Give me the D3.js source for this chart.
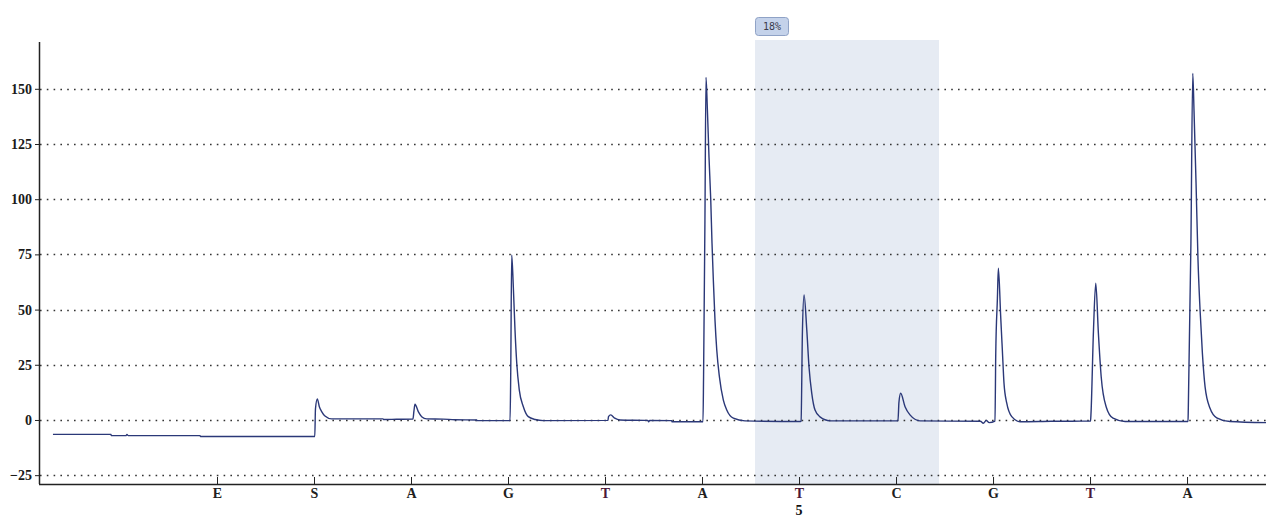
<!DOCTYPE html>
<html>
<head>
<meta charset="utf-8">
<script src="https://cdn.jsdelivr.net/npm/d3@7"></script>
<style>
  body { margin: 0; background: #fff; }
  .tick text { font-family: "Liberation Serif", serif; font-weight: bold; font-size: 14px; }
</style>
</head>
<body>
<div id="pyrogram"></div>
<script>
// dispensation order along the x axis (positions 1..11)
var dispensations = ["E", "S", "A", "G", "T", "A", "T", "C", "G", "T", "A"];
var dispPositions = [1, 2, 3, 4, 5, 6, 7, 8, 9, 10, 11];
var yTicks = [-25, 0, 25, 50, 75, 100, 125, 150];

// analysed region (in dispensation units) and its labels
var regionRange = [6.546, 8.443];
var regionLabel = "18%";
var positionLabel = "5";
var positionAt = 7;

// signal trace
var traceX = [-0.691, -0.093, -0.09, 0.06, 0.072, 0.085, 0.825, 0.83, 2.008,
  2.015, 2.034, 2.055, 2.079, 2.113, 2.182, 2.711, 2.72, 2.85, 3.02,
  3.03, 3.041, 3.075, 3.11, 3.162, 3.33, 3.45, 3.677, 3.68, 4.018,
  4.021, 4.028, 4.038, 4.055, 4.072, 4.09, 4.116, 4.158, 4.209, 4.28, 4.364,
  5.03, 5.036, 5.059, 5.1, 5.155, 5.44, 5.45, 5.46, 5.688, 5.69, 6.01,
  6.016, 6.03, 6.041, 6.055, 6.072, 6.09, 6.103, 6.117, 6.134, 6.152, 6.179, 6.22, 6.255, 6.323, 6.443, 7.015,
  7.021, 7.035, 7.052, 7.08, 7.103, 7.131, 7.165, 7.216, 7.32, 8.02,
  8.03, 8.048, 8.093, 8.144, 8.247, 8.87, 8.9, 8.93, 8.96, 9.02,
  9.028, 9.045, 9.055, 9.079, 9.096, 9.113, 9.141, 9.193, 9.278, 9.6, 10.005,
  10.01, 10.035, 10.059, 10.086, 10.115, 10.166, 10.237, 10.361, 11.01,
  11.013, 11.04, 11.059, 11.072, 11.093, 11.113, 11.134, 11.158, 11.186, 11.237, 11.306, 11.443, 11.814];
var traceY = [-6.5, -6.5, -7.1, -7.1, -6.6, -7.1, -7.1, -7.5, -7.5,
  5, 9.5, 6, 3.8, 1.8, 0.5, 0.5, 0.2, 0.3, 0.4,
  4, 7.1, 3.8, 1.5, 0.5, 0.4, 0.1, 0, -0.3, -0.3,
  -0.3, 21, 74.7, 60, 40.8, 25.8, 13.6, 6, 1.5, 0.2, -0.3,
  -0.2, 1.5, 2.3, 0.8, 0, -0.2, -0.8, -0.2, -0.3, -0.8, -0.8,
  20, 90, 155.2, 141, 119, 99.6, 80, 63, 45, 31.7, 19.6, 9, 4.5, 0.8, -0.4, -0.7,
  -0.5, 40, 56.6, 40.8, 24, 12.2, 4.5, 1.4, -0.4, -0.4,
  8, 12.1, 6, 2.3, -0.4, -0.6, -1.5, -0.2, -1.2, -0.5,
  30, 55, 68.7, 46.8, 31.7, 16.7, 7.7, 1.5, -0.8, -0.6, -0.5,
  3, 40, 61.9, 39.4, 19.6, 6, 0.8, -0.7, -0.7,
  5, 80, 157, 140, 107, 72.5, 50, 30.4, 15, 5.3, 1, -0.7, -1.2];

var svgWidth = 1266;
var svgHeight = 518;
var margin = { top: 42, right: 0, bottom: 34, left: 39 };
var width = svgWidth - margin.left - margin.right;
var height = svgHeight - margin.top - margin.bottom;

var svg = d3.select("#pyrogram")
  .append("svg")
  .attr("width", svgWidth)
  .attr("height", svgHeight);

var chartGroup = svg.append("g")
  .attr("transform", `translate(${margin.left}, ${margin.top})`);

var xScale = d3.scaleLinear()
  .domain([-0.835, 11.814])
  .range([0, width]);

var yScale = d3.scaleLinear()
  .domain([-29, 171.2])
  .range([height, 0]);

// shaded analysis region
chartGroup.append("rect")
  .attr("x", xScale(regionRange[0]))
  .attr("y", -2)
  .attr("width", xScale(regionRange[1]) - xScale(regionRange[0]))
  .attr("height", height + 2)
  .attr("fill", "#e6ebf3");

// badge above region
var badge = chartGroup.append("g")
  .attr("transform", `translate(${xScale(regionRange[0])}, -25)`);
badge.append("rect")
  .attr("x", 0.5)
  .attr("y", 0.5)
  .attr("width", 33)
  .attr("height", 18)
  .attr("rx", 3)
  .attr("fill", "#c4d2ea")
  .attr("stroke", "#8fa2c6");
badge.append("text")
  .attr("x", 17)
  .attr("y", 13)
  .attr("text-anchor", "middle")
  .style("font-family", "DejaVu Sans Mono, monospace")
  .style("font-size", "10px")
  .attr("fill", "#3a3a4a")
  .text(regionLabel);

// dotted grid
chartGroup.append("g")
  .selectAll("line")
  .data(yTicks)
  .enter()
  .append("line")
  .attr("x1", 1)
  .attr("x2", width)
  .attr("y1", d => Math.round(yScale(d)) + 0.5)
  .attr("y2", d => Math.round(yScale(d)) + 0.5)
  .attr("stroke", "#333")
  .attr("stroke-width", 1.6)
  .attr("stroke-dasharray", "1.6,5.2");

// axes
var leftAxis = d3.axisLeft(yScale)
  .tickValues(yTicks)
  .tickSize(4)
  .tickPadding(3);

var bottomAxis = d3.axisBottom(xScale)
  .tickValues(dispPositions)
  .tickFormat((d, i) => dispensations[i])
  .tickSize(-7)
  .tickPadding(4);

var yAxis = chartGroup.append("g")
  .call(leftAxis);
yAxis.select(".domain").remove();
yAxis.append("line")
  .attr("x1", 0.5).attr("x2", 0.5)
  .attr("y1", 0).attr("y2", height)
  .attr("stroke", "#222").attr("stroke-width", 1.5);

var xAxis = chartGroup.append("g")
  .attr("transform", `translate(0, ${height})`)
  .call(bottomAxis);
xAxis.select(".domain").remove();
xAxis.append("line")
  .attr("x1", 0).attr("x2", width)
  .attr("y1", 0.5).attr("y2", 0.5)
  .attr("stroke", "#222").attr("stroke-width", 1.5);

chartGroup.selectAll(".tick line").attr("stroke", "#222");
chartGroup.selectAll(".tick text").attr("fill", "#1a1a1a");
xAxis.selectAll(".tick text")
  .attr("fill", (d, i) => dispensations[i] === "T" ? "#4a1838" : "#202020");

// position number under the axis
chartGroup.append("text")
  .attr("x", xScale(positionAt))
  .attr("y", height + 31)
  .attr("text-anchor", "middle")
  .style("font-family", "Liberation Serif, serif")
  .style("font-weight", "bold")
  .style("font-size", "14px")
  .attr("fill", "#111")
  .text(positionLabel);

// trace
var line = d3.line()
  .x(d => xScale(d[0]))
  .y(d => yScale(d[1]))
  .curve(d3.curveMonotoneX);

var tracePoints = traceX.map((x, i) => [x, traceY[i]]);

chartGroup.append("path")
  .datum(tracePoints)
  .attr("d", line)
  .attr("fill", "none")
  .attr("stroke", "#2b3878")
  .attr("stroke-width", 1.4)
  .attr("stroke-linejoin", "round");
</script>
</body>
</html>
